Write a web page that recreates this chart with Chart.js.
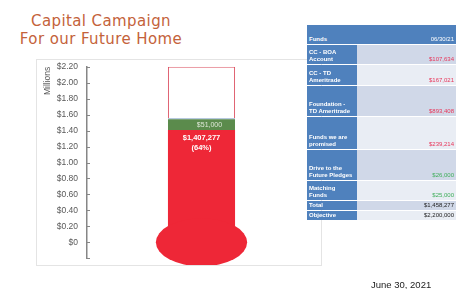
<!DOCTYPE html>
<html>
<head>
<meta charset="utf-8">
<script src="https://cdn.jsdelivr.net/npm/chart.js@4/dist/chart.umd.min.js"></script>
<style>
  html, body { margin:0; padding:0; background:#fff; width:461px; height:289px; overflow:hidden; font-family:"Liberation Sans", Arial, sans-serif; }
  #title { position:absolute; left:0; width:202px; top:12px; text-align:center; color:#c4623a; font-family:"DejaVu Sans", sans-serif; font-size:15px; line-height:18px; letter-spacing:0.4px; }
  #chartBox { position:absolute; left:36px; top:59px; width:284px; height:205px; border:1px solid #e4e4e4; }
  #tbl { position:absolute; left:307px; top:25px; width:149px; }
  .cell { position:absolute; box-sizing:border-box; font-size:6px; line-height:7px; display:flex; align-items:flex-end; padding:0 2px 1px 2px; }
  .c0 { background:#4f81bd; color:#fff; font-weight:bold; }
  .dark { background:#d0d8e8; }
  .light { background:#e9edf4; }
  .num { justify-content:flex-end; text-align:right; }
  #date { position:absolute; left:371px; top:279px; font-size:9.5px; color:#222; }
</style>
</head>
<body>
<div id="title">Capital Campaign<br>For our Future Home</div>
<div id="chartBox"><canvas id="c"></canvas></div>
<div id="tbl"></div>
<div id="date">June 30, 2021</div>
<script>
// ---- data ----
const categories = ['Campaign'];
const raised = [1.407277];          // millions, red fill
const pledgedTop = [1.554];         // millions, top of green band as drawn
const objective = [2.2];            // millions
const axisMin = -0.2;
const axisMax = 2.2;
const axisStep = 0.2;
const raisedLabel = ['$1,407,277', '(64%)'];
const pledgedLabel = '$51,000';

const fundNames = ['CC - BOA\nAccount', 'CC - TD\nAmeritrade', 'Foundation -\nTD Ameritrade', 'Funds we are\npromised', 'Drive to the\nFuture Pledges', 'Matching\nFunds', 'Total', 'Objective'];
const fundValues = ['$107,634', '$167,021', '$893,408', '$239,214', '$26,000', '$25,000', '$1,458,277', '$2,200,000'];
const tableHeader = ['Funds', '', '06/30/21'];

// ---- table ----
const valueColors = ['#e8365a', '#e8365a', '#e8365a', '#e8365a', '#3fae5a', '#3fae5a', '#222', '#222'];
const rowHeights = [19.5, 20, 21.5, 31, 32.5, 31.5, 20, 10, 10];
const colX = [0, 50, 100]; const colW = [49.5, 49.5, 49];
const tbl = document.getElementById('tbl');
let y = 0;
for (let r = 0; r < rowHeights.length; r++) {
  const h = rowHeights[r];
  for (let c = 0; c < 3; c++) {
    const d = document.createElement('div');
    d.className = 'cell';
    d.style.left = colX[c] + 'px'; d.style.width = colW[c] + 'px';
    d.style.top = y + 'px'; d.style.height = (h - 1) + 'px';
    if (r === 0) {
      d.classList.add('c0');
      d.textContent = tableHeader[c];
      if (c === 2) { d.classList.add('num'); d.style.fontWeight = 'normal'; }
    } else {
      if (c === 0) { d.classList.add('c0'); d.innerHTML = fundNames[r-1].replace('\n', '<br>'); }
      else {
        d.classList.add(r % 2 === 1 ? 'dark' : 'light');
        if (c === 2) { d.classList.add('num'); d.textContent = fundValues[r-1]; d.style.color = valueColors[r-1]; }
      }
    }
    tbl.appendChild(d);
  }
  y += h;
}

// ---- chart ----
const fmt = v => v === 0 ? '$0' : '$' + v.toFixed(2);
const thermo = {
  id: 'thermo',
  afterDatasetsDraw(chart) {
    const ctx = chart.ctx;
    const ys = chart.scales.y;
    const bar = chart.getDatasetMeta(0).data[0];
    const cx = bar.x, w = bar.width;
    // bulb
    ctx.save();
    ctx.fillStyle = '#ee2737';
    ctx.beginPath();
    ctx.ellipse(cx, ys.getPixelForValue(0), w * 0.68, 24, 0, 0, Math.PI * 2);
    ctx.fill();
    // labels
    ctx.textAlign = 'center'; ctx.textBaseline = 'middle';
    const gTop = ys.getPixelForValue(pledgedTop[0]);
    const rTop = ys.getPixelForValue(raised[0]);
    ctx.fillStyle = '#dfe8d8';
    ctx.font = '7px "Liberation Sans", Arial, sans-serif';
    ctx.fillText(pledgedLabel, cx + 8, (gTop + rTop) / 2 + 0.5);
    ctx.fillStyle = '#ffffff';
    ctx.font = 'bold 7.5px "Liberation Sans", Arial, sans-serif';
    ctx.fillText(raisedLabel[0], cx, rTop + 7.5);
    ctx.fillText(raisedLabel[1], cx, rTop + 18);
    // inside tick marks
    ctx.strokeStyle = '#868686'; ctx.lineWidth = 1;
    ys.ticks.forEach(t => {
      const py = Math.round(ys.getPixelForValue(t.value)) + 0.5;
      ctx.beginPath(); ctx.moveTo(ys.right, py); ctx.lineTo(ys.right + 3, py); ctx.stroke();
    });
    ctx.restore();
  }
};

new Chart(document.getElementById('c'), {
  type: 'bar',
  data: {
    labels: categories,
    datasets: [
      { data: raised.map(v => [0, v]), backgroundColor: '#ee2737', borderWidth: 0, grouped: false },
      { data: raised.map((v, i) => [v, pledgedTop[i]]), backgroundColor: '#5b8b4c', borderColor: '#7f9fc4', borderWidth: {top: 1, left: 0, right: 0, bottom: 0}, borderSkipped: false, grouped: false },
      { data: pledgedTop.map((v, i) => [v, objective[i]]), backgroundColor: '#ffffff', borderColor: '#dd5566', borderWidth: {top: 1, left: 1, right: 1, bottom: 0}, borderSkipped: false, grouped: false }
    ]
  },
  options: {
    responsive: true, maintainAspectRatio: false, animation: false,
    devicePixelRatio: 1,
    layout: { padding: { top: 0, bottom: 0, right: 5, left: 0 } },
    datasets: { bar: { categoryPercentage: 1, barPercentage: 0.293 } },
    plugins: { legend: { display: false }, tooltip: { enabled: false } },
    scales: {
      x: { display: false },
      y: {
        min: axisMin, max: axisMax,
        afterFit: s => { s.width = 50; s.paddingTop = 6.7; s.paddingBottom = 6.7; },
        grid: { display: false, drawTicks: false },
        border: { display: true, color: '#868686', width: 1.5 },
        ticks: { stepSize: axisStep, padding: 9, color: '#595959', font: { size: 8.5, family: '"Liberation Sans", Arial, sans-serif' },
          callback: v => v < -0.0001 ? '' : fmt(Math.abs(v) < 1e-9 ? 0 : v) },
        title: { display: true, text: 'Millions', align: 'end', color: '#595959', font: { size: 8.5, family: '"Liberation Sans", Arial, sans-serif' }, padding: { top: 6, bottom: 0 } }
      }
    }
  },
  plugins: [thermo]
});
</script>
</body>
</html>
